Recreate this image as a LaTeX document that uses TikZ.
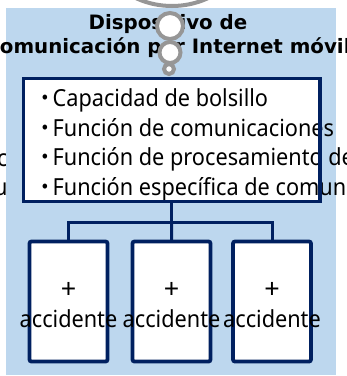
\documentclass[tikz,border=0pt]{standalone}
\usepackage{fontspec}
\setmainfont{Noto Sans}
\newfontfamily\titlefont{DejaVu Sans}
\newfontfamily\cjk{Noto Sans CJK JP}
\definecolor{bgblue}{RGB}{189,215,238}
\definecolor{navy}{RGB}{0,32,96}
\definecolor{bubblegray}{RGB}{150,150,150}
\begin{document}
\begin{tikzpicture}[x=1pt,y=-1pt,
  txt/.style={inner sep=0pt,outer sep=0pt,font=\fontsize{23.5}{29.5}\selectfont,text=black,xscale=0.923,transform shape},
  plus/.style={inner sep=0pt,outer sep=0pt,font=\fontsize{27}{29.5}\selectfont,text=black},
  ttl/.style={inner sep=0pt,outer sep=0pt,font=\titlefont\bfseries\fontsize{19.8}{24}\selectfont,text=black},
  bubble/.style={draw=bubblegray,fill=white,line width=4pt},
  boxline/.style={draw=navy,line width=3.3pt},
  leaf/.style={draw=navy,line width=3.8pt,fill=white,rounded corners=2pt,minimum width=78pt,minimum height=120pt,inner sep=0pt,outer sep=0pt},
  conn/.style={draw=navy,line width=3pt}]
\useasboundingbox (0,0) rectangle (347,376);
% clipped fragments at the left edge (behind the blue panel)
\node[txt,anchor=base east] (f1) at (7.5,166) {c};
\node[txt,anchor=base east] (f2) at (7.5,195.5) {u};
% blue panel
\fill[bgblue] (6,8) rectangle (336,375);
% title
\node[ttl,anchor=base] (t1) at (168,29) {Dispositivo de};
\node[ttl,anchor=base] (t2) at (168,53) {Comunicación por Internet móvil};
% thought bubble
\draw[bubble] (172,-80) circle[radius=86];
\draw[bubble] (170,26) circle[radius=13];
\draw[bubble] (170,52.5) circle[radius=10.5];
\draw[bubble] (169,69) circle[radius=5];
% main box
\node[fill=white,minimum width=296.5pt,minimum height=123pt,inner sep=0pt,outer sep=0pt] (bigbox) at (171.75,140) {};
\node[txt,anchor=base west] (l1) at (34.2,106.5) {{\cjk ・}\kern-3.5pt Capacidad de bolsillo};
\node[txt,anchor=base west] (l2) at (34.2,136) {{\cjk ・}\kern-3.5pt Función de comunicaciones};
\node[txt,anchor=base west] (l3) at (34.2,165.5) {{\cjk ・}\kern-3.5pt Función de procesamiento de};
\node[txt,anchor=base west] (l4) at (34.2,195) {{\cjk ・}\kern-3.5pt Función específica de comunicaciones};
\draw[boxline] (bigbox.north west) rectangle (bigbox.south east);
% leaves
\coordinate (j) at (171.75,222);
\node[leaf] (b1) at (68.5,301.5) {};
\node[leaf] (b2) at (171.5,301.5) {};
\node[leaf] (b3) at (272,301.5) {};
\draw[conn] (bigbox.south) -- (j);
\draw[conn] (j) -| (b1.north);
\draw[conn] (j) -| (b3.north);
\draw[conn] (j) -- (b2.north);
\node[plus,anchor=center] (p1) at (68.5,290.5) {+};
\node[plus,anchor=center] (p2) at (171.5,290.5) {+};
\node[plus,anchor=center] (p3) at (272,290.5) {+};
\node[txt,anchor=base] (a1) at (68.5,327) {accidente};
\node[txt,anchor=base] (a2) at (171.5,327) {accidente};
\node[txt,anchor=base] (a3) at (272,327) {accidente};
\end{tikzpicture}
\end{document}
